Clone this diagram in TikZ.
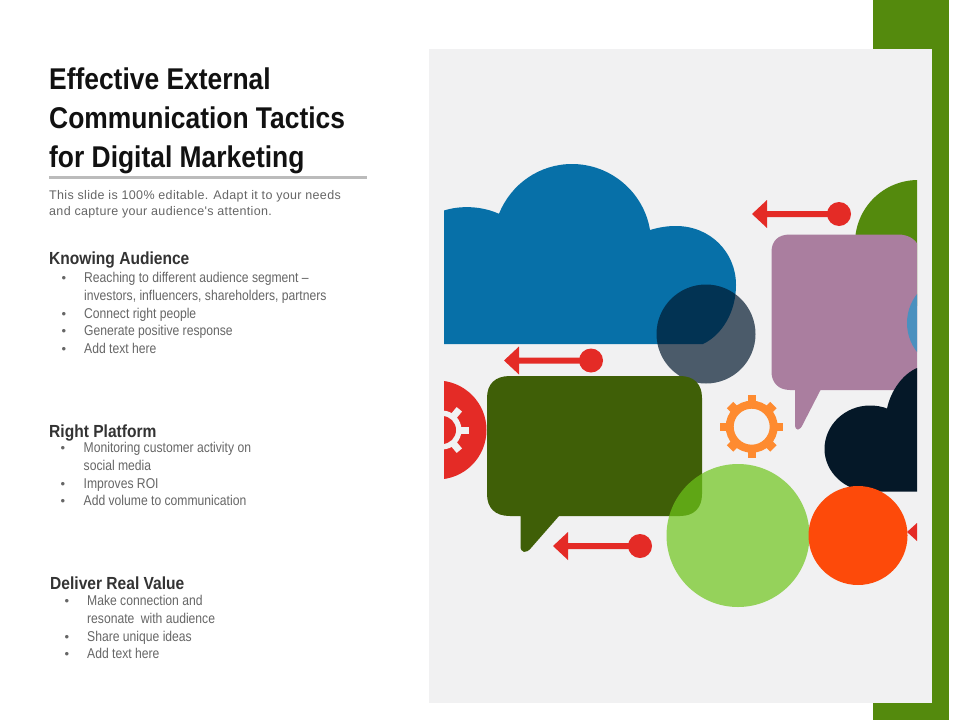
\documentclass[tikz,border=0pt]{standalone}
\usepackage{fontspec}
\setmainfont{Liberation Sans}
\newfontfamily\titlefont[FakeStretch=0.88]{Liberation Sans}
\newfontfamily\headfont[FakeStretch=0.89]{Liberation Sans}
\newfontfamily\bodyfont[FakeStretch=0.855]{Liberation Sans}
\newfontfamily\introfont[LetterSpace=2.7]{Liberation Sans}
\definecolor{panel}{HTML}{F1F1F2}
\definecolor{bargreen}{HTML}{548A0D}
\definecolor{cloudblue}{HTML}{0770A8}
\definecolor{darkgreen}{HTML}{3F5F07}
\definecolor{mauve}{HTML}{AA7E9F}
\definecolor{lime}{HTML}{6EC51B}
\definecolor{navy}{HTML}{051828}
\definecolor{orangered}{HTML}{FD4A0A}
\definecolor{gearorange}{HTML}{FE8B30}
\definecolor{tacticred}{HTML}{E42B26}
\definecolor{slate}{HTML}{01182E}
\definecolor{skyblue}{HTML}{4A90BF}
\definecolor{rulegrey}{HTML}{BBBBBB}
\definecolor{txt}{HTML}{666666}
\definecolor{titletxt}{HTML}{111111}
\definecolor{headtxt}{HTML}{333333}
\tikzset{
 titletext/.style={anchor=base west,inner sep=0pt,font=\titlefont\bfseries\fontsize{30}{32}\selectfont,text=titletxt},
 headtext/.style={anchor=base west,inner sep=0pt,font=\headfont\bfseries\fontsize{17.5}{20}\selectfont,text=headtxt},
 introtext/.style={anchor=base west,inner sep=0pt,font=\introfont\fontsize{12.5}{14}\selectfont,text=txt},
 itemtext/.style={anchor=base west,inner sep=0pt,font=\bodyfont\fontsize{14.2}{16}\selectfont,text=txt},
 bullettext/.style={anchor=base,inner sep=0pt,font=\fontsize{13}{14}\selectfont,text=txt},
}
\newcommand{\pointerarrow}[3]{%
 \fill[tacticred] (#1,#3) -- (#1+15,#3-14) -- (#1+15,#3-3) -- (#2,#3-3) -- (#2,#3+3) -- (#1+15,#3+3) -- (#1+15,#3+14) -- cycle;
 \fill[tacticred] (#2,#3) circle (12);
}
\begin{document}
\begin{tikzpicture}[x=1pt,y=-1pt]
\useasboundingbox (0,0) rectangle (960,720);
\fill[white] (0,0) rectangle (960,720);
\fill[bargreen] (873,0) rectangle (949,720);
\fill[panel] (429,49) rectangle (932,703);
% title
\node[titletext] (t1) at (49,89) {Effective External};
\node[titletext] (t2) at (49,128) {Communication Tactics};
\node[titletext] (t3) at (49,167) {for Digital Marketing};
\fill[rulegrey] (49,176) rectangle (367,178.5);
\node[introtext] (i1) at (49,199) {This slide is 100\% editable. Adapt it to your needs};
\node[introtext] (i2) at (49,215) {and capture your audience's attention.};
% section 1
\node[headtext] (h1) at (49,264) {Knowing Audience};
\foreach \y/\s in {282/{Reaching to different audience segment –},300/{investors, influencers, shareholders, partners},318/{Connect right people},335/{Generate positive response},353/{Add text here}}
  \node[itemtext] at (84,\y) {\s};
\foreach \y in {282,318,335,353} \node[bullettext] at (64,\y) {•};
% section 2
\node[headtext] (h2) at (49,437) {Right Platform};
\foreach \y/\s in {452/{Monitoring customer activity on},470/{social media},488/{Improves ROI},505/{Add volume to communication}}
  \node[itemtext] at (83.5,\y) {\s};
\foreach \y in {452,488,505} \node[bullettext] at (63,\y) {•};
% section 3
\node[headtext] (h3) at (50,589) {Deliver Real Value};
\foreach \y/\s in {605/{Make connection and},623/{resonate\hspace{3pt} with audience},641/{Share unique ideas},658/{Add text here}}
  \node[itemtext] at (87,\y) {\s};
\foreach \y in {605,641,658} \node[bullettext] at (67,\y) {•};
% artwork clipped to its frame
\begin{scope}
\clip (444,150) rectangle (917,620);
% blue cloud
\fill[cloudblue] (444,344) -- (444,210.5) .. controls (461.5,205) and (482.3,206.3) .. (499,213.8) .. controls (511,183.8) and (539.7,164) .. (572,164) .. controls (610.5,164) and (643.7,192) .. (650,230) .. controls (660,227) and (668,226) .. (676,226) .. controls (710,226) and (736,252) .. (736,285) .. controls (736,312) and (722,335) .. (703,344) -- cycle;
% green circle behind mauve
\fill[bargreen] (918,243) circle (63);
% mauve bubble
\fill[mauve] (790,234.5) -- (898,234.5) .. controls (909,234.5) and (917,240) .. (919,248) -- (919,390) -- (820.5,390) -- (803,424) .. controls (800,431) and (795,432) .. (795,424) -- (795,390) -- (790,390) .. controls (778,390) and (771.5,382) .. (771.5,372) -- (771.5,252) .. controls (771.5,241) and (778,234.5) .. (790,234.5) -- cycle;
% blue circle on right edge
\fill[skyblue] (954,323) circle (47);
% navy cloud
\fill[navy] (917,491.5) -- (870,491.5) .. controls (845,491.5) and (824.5,472) .. (824.5,449) .. controls (824.5,425) and (845,405.5) .. (870,405.5) .. controls (876,405.5) and (882,406.5) .. (887,408.5) .. controls (891,390) and (903,374) .. (917,368) -- cycle;
% slate circle
\fill[slate,opacity=.69] (706,334) circle (49.5);
% red half gear
\fill[tacticred] (437,430) circle (49.5);
\fill[panel] (442,430) circle (19.5);
\foreach \a in {0,50,-50} \fill[panel,rotate around={\a:(442,430)}] (458,426.5) rectangle (469,433.5);
\fill[tacticred] (442,430) circle (14);
% dark green bubble
\fill[darkgreen] (510,376) -- (680,376) .. controls (694,376) and (702,384) .. (702,398) -- (702,494) .. controls (702,508) and (694,516) .. (680,516) -- (559,516) -- (531,548) .. controls (526,554) and (520.5,553) .. (520.5,546) -- (520.5,516) -- (510,516) .. controls (495,516) and (487,508) .. (487,494) -- (487,398) .. controls (487,384) and (495,376) .. (510,376) -- cycle;
% lime circle
\fill[lime,opacity=.7] (738,535.5) circle (71.5);
% orange circle
\fill[orangered] (858,535.5) circle (49.5);
% gear
\fill[gearorange,even odd rule] (751.7,426.7) circle (26) (751.7,426.7) circle (18);
\foreach \a in {0,90,180,270} \fill[gearorange,rotate around={\a:(751.7,426.7)}] (747.7,395) rectangle (755.7,402);
\foreach \a in {45,135,225,315} \fill[gearorange,rotate around={\a:(751.7,426.7)}] (747.2,396) rectangle (756.2,402);
% pointers
\pointerarrow{504}{591}{360.5}
\pointerarrow{752}{839}{214}
\pointerarrow{553}{640}{546}
\fill[tacticred] (907,532) -- (917,523) -- (917,541) -- cycle;
\end{scope}
\end{tikzpicture}
\end{document}
